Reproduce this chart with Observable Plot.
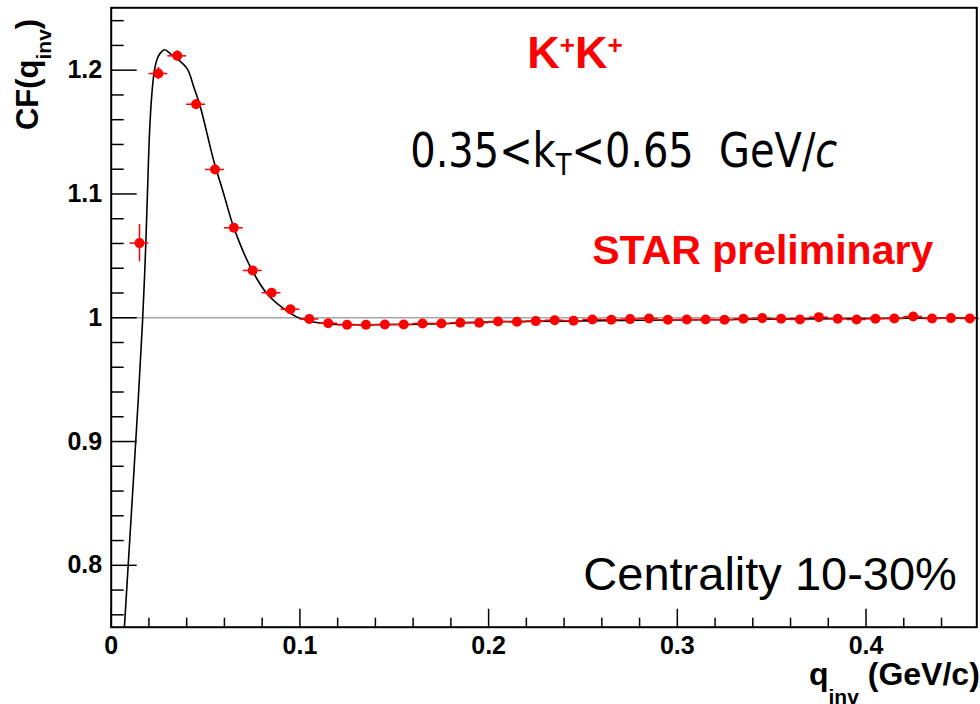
<!DOCTYPE html>
<html>
<head>
<meta charset="utf-8">
<script src="https://cdn.jsdelivr.net/npm/d3@7"></script>
<script src="https://cdn.jsdelivr.net/npm/@observablehq/plot@0.6"></script>
<style>
  html, body { margin: 0; padding: 0; background: #fff; }
  svg text { white-space: pre; }
</style>
</head>
<body>
<div id="chart"></div>
<script>
// ---- data ----
const qBins = [0.015, 0.025, 0.035, 0.045, 0.055, 0.065, 0.075, 0.085, 0.095, 0.105,
  0.115, 0.125, 0.135, 0.145, 0.155, 0.165, 0.175, 0.185, 0.195, 0.205,
  0.215, 0.225, 0.235, 0.245, 0.255, 0.265, 0.275, 0.285, 0.295, 0.305,
  0.315, 0.325, 0.335, 0.345, 0.355, 0.365, 0.375, 0.385, 0.395, 0.405,
  0.415, 0.425, 0.435, 0.445, 0.455];
const cfValues = [1.0603, 1.1973, 1.2116, 1.1725, 1.1198, 1.0727, 1.0382, 1.0202, 1.0069, 0.9990,
  0.9956, 0.9943, 0.9943, 0.9946, 0.9946, 0.9954, 0.9954, 0.9960, 0.9960, 0.9970,
  0.9968, 0.9973, 0.9980, 0.9976, 0.9986, 0.9984, 0.9989, 0.9994, 0.9984, 0.9986,
  0.9986, 0.9984, 0.9992, 0.9997, 0.9992, 0.9986, 1.0005, 0.9992, 0.9986, 0.9992,
  0.9994, 1.0010, 0.9994, 0.9997, 0.9994];
const cfErrors = [0.0151, 0.0050, 0.0042, 0.0038, 0.0034, 0.0030, 0.0027, 0.0025, 0.0023, 0.0021,
  0.0020, 0.0019, 0.0018, 0.0017, 0.0016, 0.0016, 0.0015, 0.0015, 0.0014, 0.0014,
  0.0014, 0.0013, 0.0013, 0.0013, 0.0012, 0.0012, 0.0012, 0.0012, 0.0011, 0.0011,
  0.0011, 0.0011, 0.0011, 0.0010, 0.0010, 0.0010, 0.0010, 0.0010, 0.0010, 0.0010,
  0.0010, 0.0010, 0.0010, 0.0010, 0.0010];
const binHalfWidth = 0.005;

// fit curve
const fitQ = [0.0070, 0.0090, 0.0143, 0.0167, 0.0181, 0.0192, 0.0203, 0.0215, 0.0229, 0.0244,
  0.0261, 0.0284, 0.0314, 0.0350, 0.0403, 0.0438, 0.0473, 0.0508, 0.0543, 0.0596,
  0.0649, 0.0738, 0.0826, 0.0914, 0.0985, 0.1073, 0.1150, 0.1300, 0.1500, 0.1750,
  0.1956, 0.2500, 0.3000, 0.3500, 0.4000, 0.4587];
const fitCF = [0.7500, 0.8000, 0.9332, 1.0000, 1.0500, 1.1000, 1.1490, 1.1800, 1.1998, 1.2092,
  1.2140, 1.2165, 1.2132, 1.2092, 1.2011, 1.1863, 1.1701, 1.1486, 1.1271, 1.1002,
  1.0732, 1.0409, 1.0194, 1.0073, 1.0005, 0.9965, 0.9950, 0.9944, 0.9945, 0.9952,
  0.9965, 0.9975, 0.9982, 0.9989, 0.9994, 0.9998];

// axis ticks
const xMajorTicks = [0, 0.1, 0.2, 0.3, 0.4];
const xMinorTicks = [0.02, 0.04, 0.06, 0.08, 0.12, 0.14, 0.16, 0.18, 0.22, 0.24, 0.26, 0.28,
  0.32, 0.34, 0.36, 0.38, 0.42, 0.44];
const yMajorTicks = [0.8, 0.9, 1, 1.1, 1.2];
const yMinorTicks = [0.76, 0.78, 0.82, 0.84, 0.86, 0.88, 0.92, 0.94, 0.96, 0.98, 1.02, 1.04,
  1.06, 1.08, 1.12, 1.14, 1.16, 1.18, 1.22, 1.24];
const referenceLevel = [1];

// texts
const pairLabel = "K+K+";
const ktLabel = "0.35<kT<0.65  GeV/c";
const starLabel = "STAR preliminary";
const centralityLabel = "Centrality 10-30%";
const xTitle = "qinv (GeV/c)";
const yTitle = "CF(qinv)";

// ---- build ----
const points = qBins.map((q, i) => ({q, cf: cfValues[i], err: cfErrors[i]}));
const fit = fitQ.map((q, i) => ({q, cf: fitCF[i]}));

const X0 = 0, X1 = 0.4587, Y0 = 0.75, Y1 = 1.2504;
const xTickMajorLen = 0.01453, xTickMinorLen = 0.00727;  // in y-data units
const yTickMajorLen = 0.01377, yTickMinorLen = 0.00689;  // in x-data units
const RED = "#ff0000";
const SANS = "Liberation Sans, Arial, Helvetica, sans-serif";

const plot = Plot.plot({
  width: 980,
  height: 704,
  marginLeft: 110.7,
  marginRight: 3.7,
  marginTop: 7.3,
  marginBottom: 77.3,
  x: {domain: [X0, X1], label: null},
  y: {domain: [Y0, Y1], label: null},
  style: {fontFamily: SANS, background: "#fff", overflow: "visible"},
  marks: [
    Plot.ruleY(referenceLevel, {y: d => d, stroke: "#a6a6a6", strokeWidth: 1.4}),
    Plot.line(fit, {x: "q", y: "cf", curve: "catmull-rom", stroke: "#000", strokeWidth: 1.6, clip: true}),
    Plot.ruleY(points, {y: "cf", x1: d => d.q - binHalfWidth, x2: d => d.q + binHalfWidth, stroke: RED, strokeWidth: 1.5}),
    Plot.ruleX(points, {x: "q", y1: d => d.cf - d.err, y2: d => d.cf + d.err, stroke: RED, strokeWidth: 1.5}),
    Plot.dot(points, {x: "q", y: "cf", r: 5, fill: RED, stroke: "none"}),
    // ticks (inside the frame, ROOT style)
    Plot.ruleX(xMajorTicks, {x: d => d, y1: Y0, y2: Y0 + xTickMajorLen, stroke: "#000", strokeWidth: 1.5}),
    Plot.ruleX(xMinorTicks, {x: d => d, y1: Y0, y2: Y0 + xTickMinorLen, stroke: "#000", strokeWidth: 1.5}),
    Plot.ruleY(yMajorTicks, {y: d => d, x1: X0, x2: X0 + yTickMajorLen, stroke: "#000", strokeWidth: 1.5}),
    Plot.ruleY(yMinorTicks, {y: d => d, x1: X0, x2: X0 + yTickMinorLen, stroke: "#000", strokeWidth: 1.5}),
    Plot.frame({stroke: "#000", strokeWidth: 2}),
    // tick labels
    Plot.axisX({ticks: xMajorTicks, tickSize: 0, tickPadding: 9, tickFormat: d => String(d), label: null,
      fontSize: 25, fontWeight: "bold", fill: "#000"}),
    Plot.axisY({ticks: yMajorTicks, tickSize: 0, tickPadding: 9, tickFormat: d => String(d), label: null,
      fontSize: 25, fontWeight: "bold", fill: "#000"}),
    // axis titles
    Plot.text([xTitle], {frameAnchor: "bottom-right", dx: 3, dy: 58, text: d => d,
      textAnchor: "end", lineAnchor: "bottom", fontSize: 32, fontWeight: "bold", fill: "#000"}),
    Plot.text([yTitle], {frameAnchor: "top-left", dx: -73.5, dy: 11, rotate: -90, text: d => d,
      textAnchor: "end", lineAnchor: "bottom", fontSize: 31, fontWeight: "bold", fill: "#000"}),
    // annotations
    Plot.text([pairLabel], {x: 0.2205, y: 1.2014, text: d => d, textAnchor: "start", lineAnchor: "bottom",
      fontSize: 45, fontWeight: "bold", fill: RED}),
    Plot.text([ktLabel], {x: 0.1585, y: 1.1214, text: d => d, textAnchor: "start", lineAnchor: "bottom",
      fontSize: 48, fontWeight: "normal", fill: "#000", fontFamily: "DejaVu Sans Condensed, DejaVu Sans, sans-serif"}),
    Plot.text([starLabel], {x: 0.2549, y: 1.0436, text: d => d, textAnchor: "start", lineAnchor: "bottom",
      fontSize: 41, fontWeight: "bold", fill: RED}),
    Plot.text([centralityLabel], {x: 0.2502, y: 0.7797, text: d => d, textAnchor: "start", lineAnchor: "bottom",
      fontSize: 47, fontWeight: "normal", fill: "#000"})
  ]
});

// rich-text helper: rebuilds a text element from parts (sub/superscripts, italics)
const NS = "http://www.w3.org/2000/svg";
function findText(content) {
  return Array.from(plot.querySelectorAll("text")).find(t => t.textContent === content) || null;
}
function rich(content, parts) {
  const t = findText(content);
  if (!t) return null;
  while (t.firstChild) t.removeChild(t.firstChild);
  let shift = 0;
  for (const p of parts) {
    const s = document.createElementNS(NS, "tspan");
    s.textContent = p.t;
    const want = p.shift || 0;
    if (want !== shift) { s.setAttribute("dy", want - shift); shift = want; }
    if (p.size) s.setAttribute("font-size", p.size);
    if (p.italic) s.setAttribute("font-style", "italic");
    t.appendChild(s);
  }
  return t;
}
rich(pairLabel, [{t: "K"}, {t: "+", size: 26, shift: -14}, {t: "K"}, {t: "+", size: 26, shift: -14}]);
const kt = rich(ktLabel, [{t: "0.35<k"}, {t: "T", size: 31, shift: 8}, {t: "<0.65  GeV/"}, {t: "c", italic: true}]);
if (kt) { kt.setAttribute("textLength", 427); kt.setAttribute("lengthAdjust", "spacingAndGlyphs"); }
rich(xTitle, [{t: "q"}, {t: "inv", size: 21, shift: 19}, {t: " (GeV/c)"}]);
rich(yTitle, [{t: "CF(q"}, {t: "inv", size: 21, shift: 13}, {t: ")"}]);

document.getElementById("chart").appendChild(plot);
</script>
</body>
</html>
